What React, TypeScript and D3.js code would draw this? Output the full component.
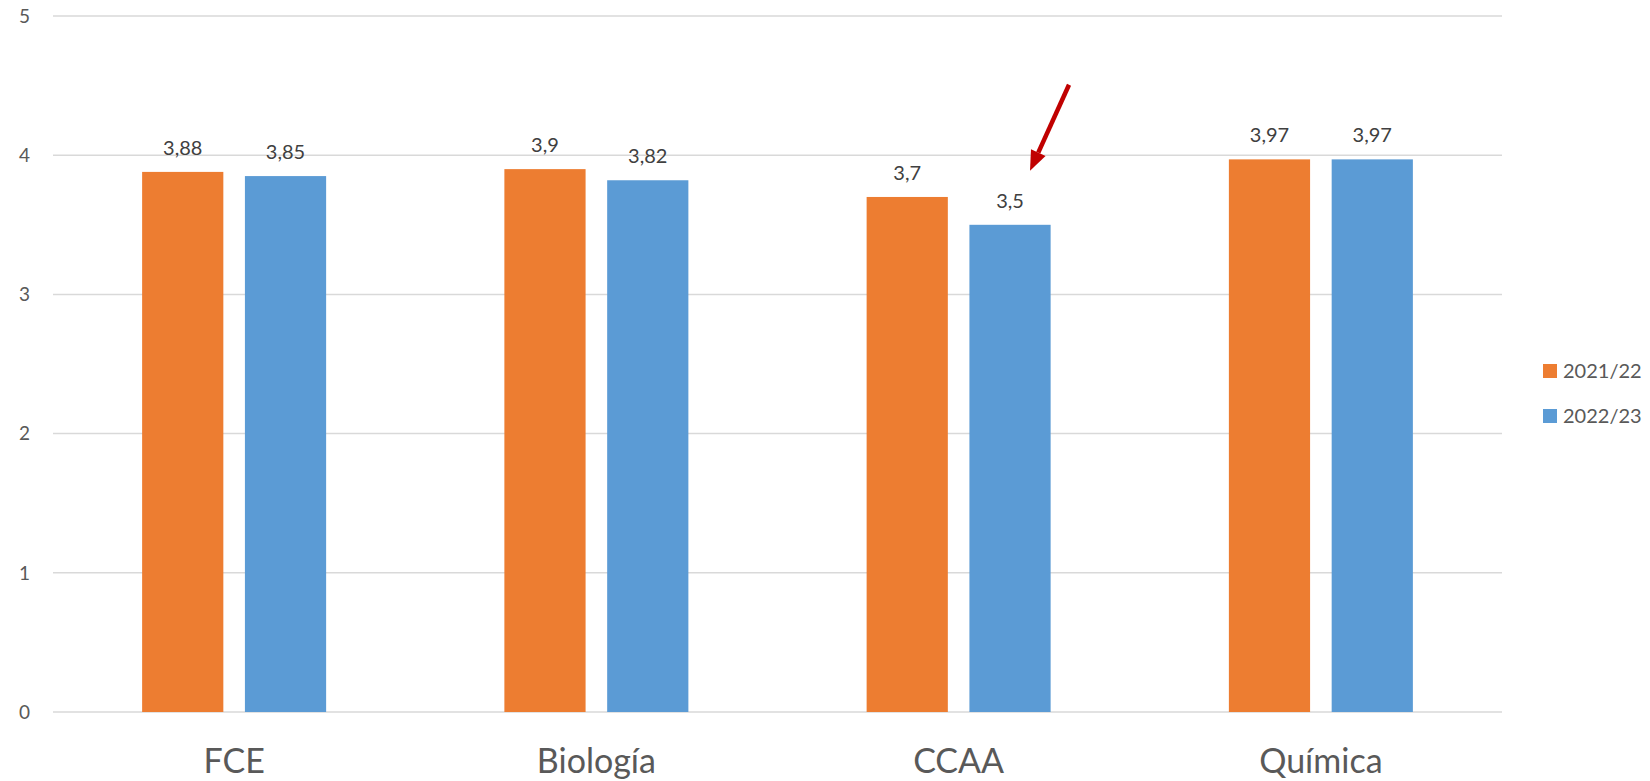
import { useEffect, useRef } from 'react';
import * as d3 from 'd3';

const categories = ['FCE', 'Biología', 'CCAA', 'Química'];
const seriesNames = ['2021/22', '2022/23'];
const values2122 = [3.88, 3.9, 3.7, 3.97];
const values2223 = [3.85, 3.82, 3.5, 3.97];
const yTicks = [0, 1, 2, 3, 4, 5];
const colors = ['#ED7D31', '#5B9BD5'];

const WIDTH = 1650;
const HEIGHT = 781;
const FONT = 'Lato, "Open Sans", sans-serif';
const TEXT = '#595959';

export default function App() {
	const svgRef = useRef<SVGSVGElement>(null);

	useEffect(() => {
		if (!svgRef.current) return;
		const svg = d3.select(svgRef.current);
		svg.selectAll('*').remove();

		// plot area
		const left = 53;
		const right = 1502;
		const top = 16;
		const bottom = 712;

		const x0 = d3.scaleBand<string>().domain(categories).range([left, right]).padding(0);
		const x1 = d3
			.scaleBand<string>()
			.domain(seriesNames)
			.range([(x0.bandwidth() - 184) / 2, (x0.bandwidth() + 184) / 2])
			.paddingInner(0.21)
			.paddingOuter(0);
		const y = d3.scaleLinear().domain([0, 5]).range([bottom, top]);

		// grid lines
		svg
			.append('g')
			.selectAll('line')
			.data(yTicks)
			.enter()
			.append('line')
			.attr('x1', left)
			.attr('x2', right)
			.attr('y1', (d) => y(d))
			.attr('y2', (d) => y(d))
			.attr('stroke', '#d9d9d9')
			.attr('stroke-width', 1.5);

		// y tick labels
		svg
			.append('g')
			.selectAll('text')
			.data(yTicks)
			.enter()
			.append('text')
			.attr('x', 30)
			.attr('y', (d) => y(d))
			.attr('dy', '0.36em')
			.attr('text-anchor', 'end')
			.style('font-family', FONT)
			.style('font-size', '19px')
			.style('fill', TEXT)
			.text((d) => d);

		const series = [values2122, values2223];
		const rows = categories.flatMap((c, i) =>
			series.map((vals, s) => ({ cat: c, name: seriesNames[s], value: vals[i], color: colors[s] }))
		);

		// bars
		svg
			.append('g')
			.selectAll('rect')
			.data(rows)
			.enter()
			.append('rect')
			.attr('x', (d) => x0(d.cat)! + x1(d.name)!)
			.attr('y', (d) => y(d.value))
			.attr('width', x1.bandwidth())
			.attr('height', (d) => y(0) - y(d.value))
			.attr('fill', (d) => d.color);

		// value labels
		svg
			.append('g')
			.selectAll('text')
			.data(rows)
			.enter()
			.append('text')
			.attr('x', (d) => x0(d.cat)! + x1(d.name)! + x1.bandwidth() / 2)
			.attr('y', (d) => y(d.value) - 17)
			.attr('text-anchor', 'middle')
			.style('font-family', FONT)
			.style('font-size', '20px')
			.style('fill', '#404040')
			.text((d) => String(d.value).replace('.', ','));

		// category labels
		svg
			.append('g')
			.selectAll('text')
			.data(categories)
			.enter()
			.append('text')
			.attr('x', (d) => x0(d)! + x0.bandwidth() / 2)
			.attr('y', 773)
			.attr('text-anchor', 'middle')
			.style('font-family', FONT)
			.style('font-size', '34px')
			.style('fill', TEXT)
			.text((d) => d);

		// legend
		const legend = svg.append('g').attr('transform', 'translate(1543,371)');
		seriesNames.forEach((name, i) => {
			const g = legend.append('g').attr('transform', `translate(0,${i * 45})`);
			g.append('rect').attr('x', 0).attr('y', -7).attr('width', 14).attr('height', 14).attr('fill', colors[i]);
			g.append('text')
				.attr('x', 20)
				.attr('y', 0)
				.attr('dy', '0.36em')
				.style('font-family', FONT)
				.style('font-size', '20px')
				.style('fill', TEXT)
				.text(name);
		});

		// red arrow pointing at the CCAA 2022/23 label
		const bx = x0('CCAA')! + x1('2022/23')! + x1.bandwidth() / 2;
		const tipX = bx + 20;
		const tipY = y(3.5) - 54;
		const tailX = tipX + 39;
		const tailY = tipY - 86;
		const ang = Math.atan2(tipY - tailY, tipX - tailX);
		const headLen = 20;
		const headHalf = 8;
		const baseX = tipX - headLen * Math.cos(ang);
		const baseY = tipY - headLen * Math.sin(ang);
		const nx = -Math.sin(ang);
		const ny = Math.cos(ang);
		svg
			.append('line')
			.attr('x1', tailX)
			.attr('y1', tailY)
			.attr('x2', baseX)
			.attr('y2', baseY)
			.attr('stroke', '#C00000')
			.attr('stroke-width', 4.5);
		svg
			.append('path')
			.attr(
				'd',
				`M${tipX},${tipY}L${baseX + nx * headHalf},${baseY + ny * headHalf}L${baseX - nx * headHalf},${baseY - ny * headHalf}Z`
			)
			.attr('fill', '#C00000');
	}, []);

	return (
		<svg
			ref={svgRef}
			width={WIDTH}
			height={HEIGHT}
			style={{ position: 'absolute', left: 0, top: 0, background: '#fff' }}
		></svg>
	);
}
